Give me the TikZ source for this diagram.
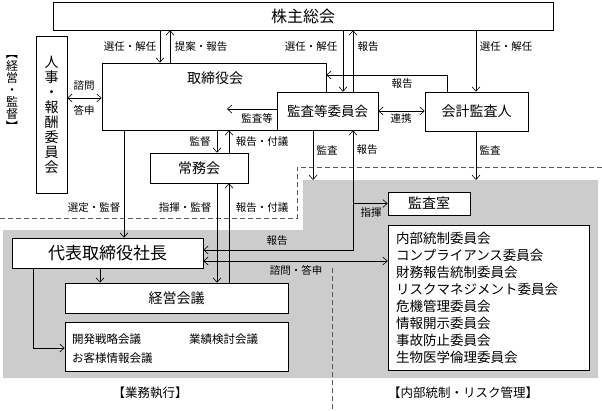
\documentclass[tikz,border=0pt]{standalone}
\usepackage{fontspec}
\usepackage{graphicx}
\setmainfont{Noto Sans CJK JP}
\usetikzlibrary{arrows.meta}
\begin{document}
\begin{tikzpicture}[x=1pt,y=-1pt,
  box/.style={draw, fill=white, line width=0.6pt, inner sep=0pt},
  lbl/.style={font=\fontsize{10.5}{12}\selectfont, inner sep=0pt},
  arr/.style={-{Straight Barb[length=4.5pt,width=8pt]}, line width=0.6pt},
  darr/.style={{Straight Barb[length=4.5pt,width=8pt]}-{Straight Barb[length=4.5pt,width=8pt]}, line width=0.6pt},
  dsh/.style={dash pattern=on 5pt off 3pt, line width=0.7pt, black!65},
  fbig/.style={font=\fontsize{14}{16}\selectfont},
  flist/.style={font=\fontsize{13.5}{16}\selectfont, inner sep=0pt, anchor=west},
  fsub/.style={font=\fontsize{11.5}{13}\selectfont, inner sep=0pt, anchor=west}]
\useasboundingbox (0,0) rectangle (602,410);
% gray area and dashed borders
\fill[gray!40] (3,230) -- (303,230) -- (303,180) -- (598,180) -- (598,378) -- (3,378) -- cycle;
\draw[dsh] (0,218) -- (297,218) -- (297,167) -- (602,167);
\draw[dsh] (332,268) -- (332,410);

% boxes
\node[box, minimum width=500pt, minimum height=28pt, font=\fontsize{16}{18}\selectfont] (kabu) at (303,16) {株主総会};
\node[box, minimum width=31pt, minimum height=157pt] (jinji) at (51.5,114.5) {};
\node[align=center, inner sep=0pt, font=\fontsize{14}{15}\selectfont] (jinjit) at (jinji.center) {人\\事\\・\\報\\酬\\委\\員\\会};
\node[align=center, inner sep=0pt, font=\fontsize{12}{12.2}\selectfont] (keieikantoku) at (12,90) {\rotatebox[origin=c]{-90}{【}\\経\\営\\・\\監\\督\\\rotatebox[origin=c]{-90}{】}};
\node[box, minimum width=224pt, minimum height=67pt] (tori) at (214,96.5) {};
\node[inner sep=0pt, fbig] (torit) at (215,78) {取締役会};
\node[box, fbig, minimum width=101pt, minimum height=38pt, font=\fontsize{13.5}{16}\selectfont] (kansa) at (327.5,111) {監査等委員会};
\node[box, fbig, minimum width=103pt, minimum height=39pt] (kaikei) at (476.5,111.5) {会計監査人};
\node[box, fbig, minimum width=98pt, minimum height=30pt] (jomu) at (199,168) {常務会};
\node[box, fbig, minimum width=82pt, minimum height=23pt] (shitsu) at (429,203.5) {監査室};
\node[box, minimum width=201pt, minimum height=145pt] (list) at (488.5,297.5) {};
\node[flist] (li1) at (396,238) {内部統制委員会};
\node[flist] (li2) at (396,255) {コンプライアンス委員会};
\node[flist] (li3) at (396,272.5) {財務報告統制委員会};
\node[flist] (li4) at (396,289.5) {リスクマネジメント委員会};
\node[flist] (li5) at (396,306.5) {危機管理委員会};
\node[flist] (li6) at (396,323) {情報開示委員会};
\node[flist] (li7) at (396,340) {事故防止委員会};
\node[flist] (li8) at (396,357) {生物医学倫理委員会};
\node[box, minimum width=191pt, minimum height=30pt, font=\fontsize{17}{19}\selectfont] (daihyo) at (107.5,253) {代表取締役社長};
\node[box, fbig, minimum width=223pt, minimum height=30pt] (keiei) at (176.5,298) {経営会議};
\node[box, minimum width=223pt, minimum height=49pt] (sub) at (176.5,346.5) {};
\node[fsub] (s1) at (72,339) {開発戦略会議};
\node[fsub] (s2) at (189,339) {業績検討会議};
\node[fsub] (s3) at (72,358) {お客様情報会議};
\node[inner sep=0pt, font=\fontsize{12.5}{14}\selectfont] (gyomu) at (150,393) {【業務執行】};
\node[inner sep=0pt, font=\fontsize{12.5}{14}\selectfont] (naibu) at (463,393) {【内部統制・リスク管理】};

% connectors
\draw[arr] (160,0 |- kabu.south) -- (160,0 |- tori.north);
\draw[arr] (170,0 |- tori.north) -- (170,0 |- kabu.south);
\draw[arr] (343,0 |- kabu.south) -- (343,0 |- kansa.north);
\draw[arr] (353,0 |- kansa.north) -- (353,0 |- kabu.south);
\draw[arr] (476,0 |- kabu.south) -- (476,0 |- kaikei.north);
\draw[arr] (447,0 |- kaikei.north) |- (tori.east |- 0,75);
\draw[darr] (kansa.east |- 0,111) -- (kaikei.west |- 0,111);
\coordinate (kt) at (227,109);
\draw[arr] (kansa.west |- kt) -- (kt);
\draw[darr] (jinji.east |- 0,98) -- (tori.west |- 0,98);
\draw[arr] (217,0 |- tori.south) -- (217,0 |- jomu.north);
\draw[arr] (229,0 |- jomu.north) -- (229,0 |- tori.south);
\draw[arr] (217,0 |- jomu.south) -- (217,0 |- keiei.north);
\draw[arr] (229,0 |- keiei.north) -- (229,0 |- jomu.south);
\draw[arr] (124,0 |- tori.south) -- (124,0 |- daihyo.north);
\coordinate (g1) at (313,180);
\draw[arr] (313,0 |- kansa.south) -- (g1);
\coordinate (g2) at (476,180);
\draw[arr] (476,0 |- kaikei.south) -- (g2);
\draw[darr] (353,0 |- kansa.south) |- (daihyo.east |- 0,250);
\coordinate (br) at (353,203.5);
\draw[arr] (br) -- (shitsu.west);
\draw[darr] (daihyo.east |- 0,261) -- (list.west |- 0,261);
\draw[arr] (100,0 |- daihyo.south) -- (100,0 |- keiei.north);
\draw[arr] (33,0 |- daihyo.south) |- (sub.west |- 0,348);

% labels
\node[lbl] (l1) at (130,47) {選任・解任};
\node[lbl] (l2) at (201,47) {提案・報告};
\node[lbl] (l3) at (311,47) {選任・解任};
\node[lbl] (l4) at (368,47) {報告};
\node[lbl] (l5) at (506,47) {選任・解任};
\node[lbl] (l6) at (402,84) {報告};
\node[lbl] (l7) at (401,119) {連携};
\node[lbl] (l8) at (257,118) {監査等};
\node[lbl] (l9) at (84,86) {諮問};
\node[lbl] (l10) at (84,110) {答申};
\node[lbl] (l11) at (200,142) {監督};
\node[lbl] (l12) at (262,142) {報告・付議};
\node[lbl] (l13) at (185,208) {指揮・監督};
\node[lbl] (l14) at (262,208) {報告・付議};
\node[lbl] (l15) at (94,208) {選定・監督};
\node[lbl] (l16) at (327,150) {監査};
\node[lbl] (l17) at (367,150) {報告};
\node[lbl] (l18) at (277,241) {報告};
\node[lbl] (l19) at (371,213) {指揮};
\node[lbl] (l20) at (296,270) {諮問・答申};
\node[lbl] (l21) at (490,150) {監査};
\end{tikzpicture}
\end{document}
